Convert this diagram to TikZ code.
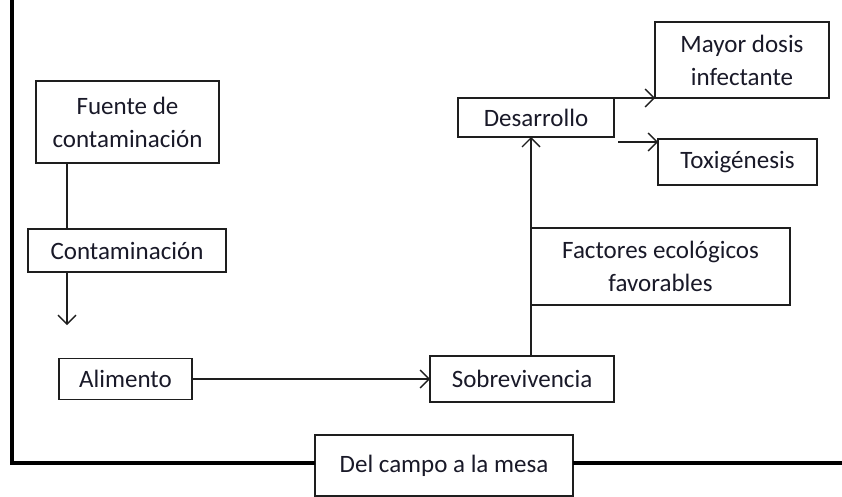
\documentclass[tikz,border=0pt]{standalone}
\usepackage{fontspec}
\setmainfont{Carlito}
\usetikzlibrary{arrows.meta}
\definecolor{txt}{RGB}{25,25,40}
\definecolor{ln}{RGB}{30,30,30}
\begin{document}
\begin{tikzpicture}[x=1pt,y=-1pt,
  box/.style={draw=ln, line width=1.4pt, inner sep=0pt, outer sep=0pt, align=center, text=txt,
    font=\fontsize{25}{33}\selectfont},
  conn/.style={draw=ln, line width=1.4pt},
  arr/.style={conn, -{Straight Barb[length=9pt,width=18pt,line width=1.4pt]}},
  frame/.style={draw=black, line width=4pt}]
\useasboundingbox (0,0) rectangle (842,497);
% boxes
\node[box, minimum width=183pt, minimum height=82pt] (fuente) at (127.5,122) {Fuente de\\contaminación};
\node[box, minimum width=198pt, minimum height=43pt] (cont) at (127,250.5) {Contaminación};
\node[box, minimum width=133pt, minimum height=41pt] (alim) at (125.5,379) {Alimento};
\node[box, minimum width=184pt, minimum height=46pt] (sobre) at (522,379) {Sobrevivencia};
\node[box, minimum width=259pt, minimum height=77pt] (fact) at (660.5,266.5) {Factores ecológicos\\favorables};
\node[box, minimum width=156pt, minimum height=39pt] (desa) at (536,117.5) {Desarrollo};
\node[box, minimum width=174pt, minimum height=76pt] (mayor) at (742,60) {Mayor dosis\\infectante};
\node[box, minimum width=159pt, minimum height=46pt] (tox) at (737.5,162) {Toxigénesis};
\node[box, minimum width=258pt, minimum height=61pt] (campo) at (444,465.5) {Del campo a la mesa};
% frame
\coordinate (tl) at (12,0);
\coordinate (bl) at (12,463);
\coordinate (br) at (842,463);
\draw[frame] (tl) -- (bl) -- (bl -| campo.west);
\draw[frame] (bl -| campo.east) -- (br);
% connectors
\coordinate (c1) at (67,325);
\draw[conn] (fuente.south -| c1) -- (cont.north -| c1);
\draw[arr] (cont.south -| c1) -- (c1);
\draw[arr] (alim.east) -- (alim.east -| sobre.west);
\coordinate (vx) at (531,0);
\draw[arr] (sobre.north -| vx) -- (desa.south -| vx);
\draw[arr] (desa.north east) -- (desa.north east -| mayor.west);
\coordinate (t1) at (618,142);
\draw[arr] (t1) -- (t1 -| tox.west);
\end{tikzpicture}
\end{document}
